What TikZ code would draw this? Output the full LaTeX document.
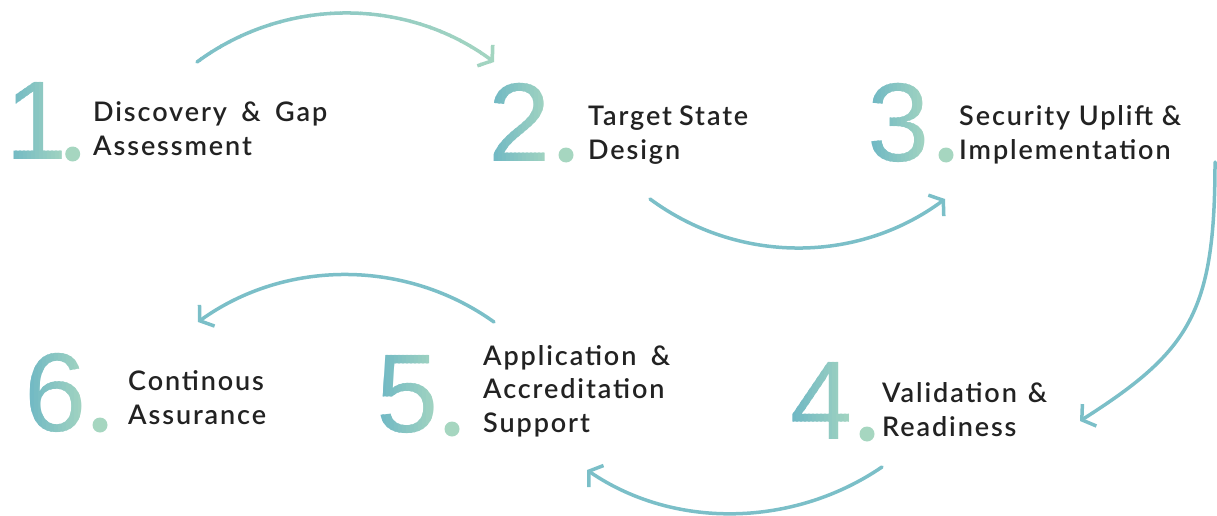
\documentclass[tikz,border=0pt]{standalone}
\usepackage{fontspec}
\setmainfont{Lato Semibold}[LetterSpace=7]
\newfontfamily\numfont{Liberation Sans}
\usetikzlibrary{arrows.meta}

\definecolor{tealc}{HTML}{6CB6C4}
\definecolor{mintc}{HTML}{A6D6C0}
\definecolor{arrowc}{HTML}{7BBFC8}
\definecolor{inkc}{HTML}{222222}

\tikzset{
  numtxt/.style={font=\numfont\fontsize{112}{112}\selectfont,inner sep=0pt},
  steptxt/.style={anchor=base west,inner sep=0pt,align=left,text=inkc,
    font=\fontsize{27}{33.5}\selectfont},
  stepdot/.style={circle,fill=mintc,minimum size=15pt,inner sep=0pt},
  looparrow/.style={draw=arrowc,line width=3.5pt,line cap=round,
    -{Straight Barb[length=9pt,width=26pt]}}
}

\begin{document}
\begin{tikzpicture}[x=1pt,y=-1pt]
  \useasboundingbox (0,0) rectangle (1217,516);

  % big numbers, teal to mint from left to right
  \foreach \n/\cx/\cy in {1/37/121,2/520/122.5,3/899/122.5,4/822/401,5/408/395,6/56/393}{
    \foreach \k [evaluate=\k as \p using 100-\k*100/16] in {0,...,16}{
      \begin{scope}
        \clip (\cx-34+\k*4,\cy-55) rectangle ++(5,110);
        \node (num\n)[numtxt,text=tealc!\p!mintc] at (\cx,\cy) {\n};
      \end{scope}
    }
  }

  \node (d1)[stepdot] at (72.7,154) {};
  \node (d2)[stepdot] at (566,155) {};
  \node (d3)[stepdot] at (946,155) {};
  \node (d4)[stepdot] at (867,434) {};
  \node (d5)[stepdot] at (452,429) {};
  \node (d6)[stepdot] at (100,425) {};

  \node (t1)[steptxt] at (93,155) {\makebox[234pt][s]{Discovery \& Gap}\\Assessment};
  \node (t2)[steptxt] at (588,159) {\makebox[160pt][s]{Target State}\\Design};
  \node (t3)[steptxt] at (959,159) {Security Uplift \&\\Implementation};
  \node (t4)[steptxt] at (882,436) {\makebox[165pt][s]{Validation \&}\\Readiness};
  \node (t5)[steptxt] at (483,432) {\makebox[187pt][s]{Application \&}\\Accreditation\\Support};
  \node (t6)[steptxt] at (128,424) {Continous\\Assurance};

  \coordinate (a1s) at (197,62);
  \coordinate (a1e) at (494,62);
  \coordinate (a2s) at (650,199);
  \coordinate (a2e) at (945,199);
  \coordinate (a3s) at (1215,162);
  \coordinate (a3e) at (1080,421);
  \coordinate (a4s) at (882,467);
  \coordinate (a4e) at (587,470);
  \coordinate (a5s) at (494,322);
  \coordinate (a5e) at (198,322);

  % first arrow fades to mint
  \foreach \k [evaluate=\k as \p using 100-\k*100/33] in {0,...,33}{
    \begin{scope}
      \clip (180+\k*10,0) rectangle ++(11,80);
      \draw[looparrow,draw=arrowc!\p!mintc] (a1s) .. controls +(88,-65) and +(-88,-65) .. (a1e);
    \end{scope}
  }
  \draw[looparrow] (a2s) .. controls +(88,65) and +(-88,65) .. (a2e);
  \draw[looparrow] (a3s) .. controls +(0,150) and +(110,-70) .. (a3e);
  \draw[looparrow] (a4s) .. controls +(-88,60) and +(88,60) .. (a4e);
  \draw[looparrow] (a5s) .. controls +(-88,-63) and +(88,-63) .. (a5e);
\end{tikzpicture}
\end{document}
